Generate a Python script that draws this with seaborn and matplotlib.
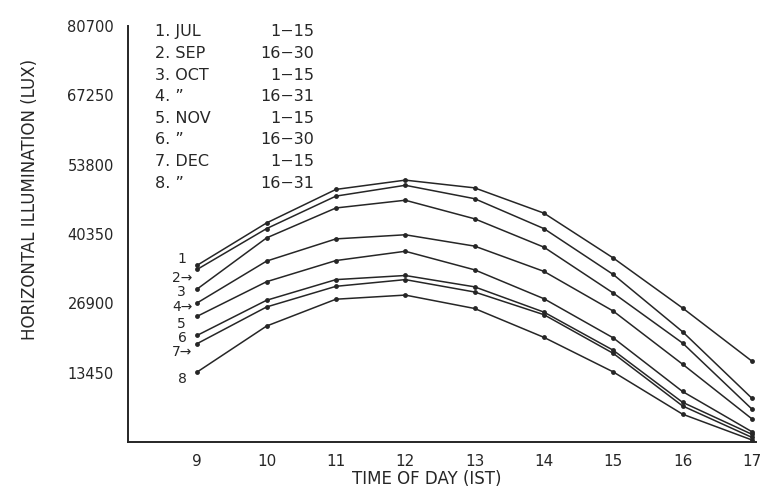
import numpy as np
import pandas as pd
import matplotlib
matplotlib.use('Agg')
import matplotlib.pyplot as plt
import seaborn as sns

# 数据：各时段水平照度 (lux)
hours = [9, 10, 11, 12, 13, 14, 15, 16, 17]
curve_ids = ['1', '2', '3', '4', '5', '6', '7', '8']
months = ['JUL', 'SEP', 'OCT', '\u201d', 'NOV', '\u201d', 'DEC', '\u201d']
days = ['1\u221215', '16\u221230', '1\u221215', '16\u221231',
        '1\u221215', '16\u221230', '1\u221215', '16\u221231']
end_labels = ['1', '2\u2192', '3', '4\u2192', '5', '6', '7\u2192', '8']

lux_1 = [34300, 42500, 49000, 50800, 49300, 44400, 35700, 26000, 15700]
lux_2 = [33500, 41400, 47700, 49800, 47200, 41400, 32500, 21400, 8500]
lux_3 = [29700, 39600, 45400, 46900, 43300, 37800, 28900, 19200, 6400]
lux_4 = [27000, 35100, 39400, 40200, 38000, 33100, 25400, 15100, 4500]
lux_5 = [24400, 31100, 35200, 37000, 33400, 27800, 20200, 9800, 2000]
lux_6 = [20700, 27500, 31500, 32300, 30100, 25200, 17800, 7700, 1500]
lux_7 = [19100, 26200, 30200, 31500, 29100, 24700, 17200, 7000, 900]
lux_8 = [13600, 22500, 27700, 28500, 25900, 20300, 13600, 5400, 400]

y_ticks = [13450, 26900, 40350, 53800, 67250, 80700]

all_lux = [lux_1, lux_2, lux_3, lux_4, lux_5, lux_6, lux_7, lux_8]
df = pd.DataFrame({
    'hour': hours * len(curve_ids),
    'lux': np.concatenate(all_lux),
    'curve': np.repeat(curve_ids, len(hours)),
})

sns.set_style('white')
plt.rcParams['font.family'] = ['DejaVu Sans']
ink = '#262626'

fig = plt.figure(figsize=(7.62, 4.87), dpi=100)
ax = fig.add_axes([128 / 762, 1 - 442 / 487, 628 / 762, 416 / 487])

sns.lineplot(data=df, x='hour', y='lux', hue='curve', palette=[ink] * 8,
             marker='o', markersize=3.5, markeredgewidth=0, linewidth=1.1,
             legend=False, ax=ax)

ax.set_xlim(8, 17.06)
ax.set_ylim(0, 80700)
ax.set_xticks(hours)
ax.set_xticklabels([str(h) for h in hours])
ax.set_yticks(y_ticks)
ax.set_yticklabels([str(v) for v in y_ticks])
ax.set_xlabel('')
ax.set_ylabel('')
sns.despine(ax=ax)
for s in ['left', 'bottom']:
    ax.spines[s].set_color(ink)
    ax.spines[s].set_linewidth(1.4)
ax.tick_params(axis='x', direction='in', length=9, width=1.2, pad=9,
               labelsize=11, colors=ink)
ax.tick_params(axis='y', direction='out', length=7, width=1.2, pad=3,
               labelsize=10.5, colors=ink)

# 曲线编号
offsets = [(-15, 6, 'center'), (-5, -9, 'right'), (-16, -3, 'center'),
           (-5, -4, 'right'), (-16, -8, 'center'), (-15, -3, 'center'),
           (-5, -8, 'right'), (-15, -7, 'center')]
for lab, lux, (dx, dy, ha) in zip(end_labels, all_lux, offsets):
    ax.annotate(lab, (hours[0], lux[0]), xytext=(dx, dy),
                textcoords='offset pixels', ha=ha, va='center',
                fontsize=10, color=ink)

# 图例文字
for i, (cid, m, d) in enumerate(zip(curve_ids, months, days)):
    y = 0.986 - i * 0.052
    ax.text(0.043, y, f'{cid}. {m}', transform=ax.transAxes,
            ha='left', va='center', fontsize=11.5, color=ink)
    ax.text(0.297, y, d, transform=ax.transAxes,
            ha='right', va='center', fontsize=11.5, color=ink)

fig.text(30 / 762, 1 - 199 / 487, 'HORIZONTAL ILLUMINATION (LUX)',
         rotation=90, ha='center', va='center', fontsize=12, color=ink)
fig.text(427 / 762, 1 - 479 / 487, 'TIME OF DAY (IST)',
         ha='center', va='center', fontsize=12, color=ink)

fig.savefig('out.png', dpi=100, facecolor='white')
